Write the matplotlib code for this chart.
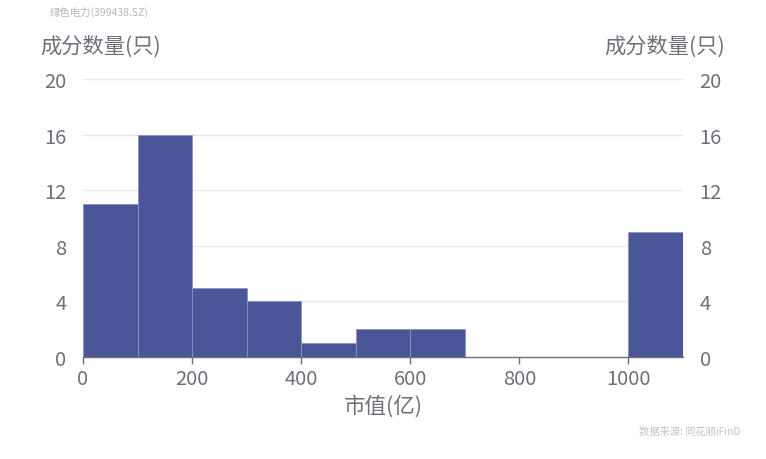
import matplotlib
matplotlib.use("Agg")
import matplotlib.pyplot as plt

plt.rcParams['font.family'] = ['Noto Sans CJK SC', 'DejaVu Sans']

# Market-cap bins (亿) and number of constituents in each
bin_edges = [0, 100, 200, 300, 400, 500, 600, 700, 800, 900, 1000, 1100]
counts = [11, 16, 5, 4, 1, 2, 2, 0, 0, 0, 9]
x_ticks = [0, 200, 400, 600, 800, 1000]
y_ticks = [0, 4, 8, 12, 16, 20]

title = "绿色电力(399438.SZ)"
y_label = "成分数量(只)"
x_label = "市值(亿)"
source = "数据来源: 同花顺iFinD"

bar_color = "#4a5697"
text_color = "#6e7079"
grid_color = "#e6e8f5"

fig = plt.figure(figsize=(7.66, 4.60), dpi=100)
ax = fig.add_axes([83 / 766, 102 / 460, 600 / 766, 278 / 460])

lefts = bin_edges[:-1]
widths = [b - a for a, b in zip(bin_edges[:-1], bin_edges[1:])]
ax.bar(lefts, counts, width=widths, align="edge", color=bar_color,
       edgecolor="#8a93c4", linewidth=0.6, zorder=2)

ax.set_xlim(0, 1100)
ax.set_ylim(0, 20)
ax.set_xticks(x_ticks)
ax.set_yticks(y_ticks)
ax.grid(axis="y", color=grid_color, linewidth=1, zorder=0)
ax.set_axisbelow(True)

for s in ["top", "right", "left"]:
    ax.spines[s].set_visible(False)
ax.spines["bottom"].set_color(text_color)
ax.spines["bottom"].set_linewidth(1)
ax.spines["bottom"].set_zorder(3)

ax.tick_params(axis="x", colors=text_color, labelsize=14.5, length=5, width=1, pad=3)
ax.tick_params(axis="y", colors=text_color, labelsize=14.5, length=0, pad=12)

ax2 = ax.twinx()
ax2.set_ylim(0, 20)
ax2.set_yticks(y_ticks)
for s in ["top", "right", "left", "bottom"]:
    ax2.spines[s].set_visible(False)
ax2.tick_params(axis="y", colors=text_color, labelsize=14.5, length=0, pad=12)

ax.set_xlabel(x_label, color=text_color, fontsize=15.5, labelpad=4)

fig.text(40 / 766, 1 - 47 / 460, y_label, color=text_color, fontsize=15.3,
         ha="left", va="center")
fig.text(725 / 766, 1 - 47 / 460, y_label, color=text_color, fontsize=15.3,
         ha="right", va="center")
fig.text(50 / 766, 1 - 12 / 460, title, color="#b8b8b8", fontsize=7.5,
         ha="left", va="center")
fig.text(740 / 766, 1 - 432 / 460, source, color="#c4c4c4", fontsize=7.4,
         ha="right", va="center")

fig.savefig("out.png", dpi=100, facecolor="white")
